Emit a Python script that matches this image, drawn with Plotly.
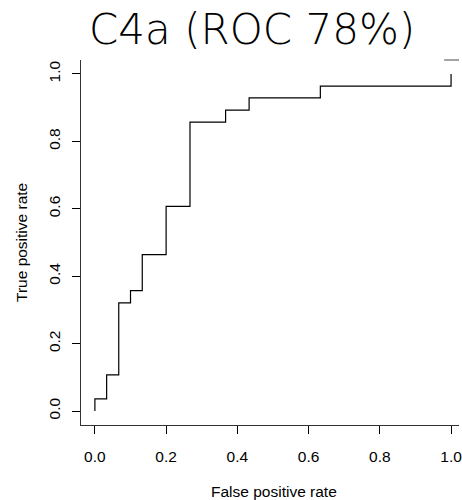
import plotly.graph_objects as go

# ROC curve breakpoints
fpr = [0, 0, 0.033, 0.067, 0.1, 0.133, 0.2, 0.267, 0.367, 0.433, 0.633, 1.0]
tpr = [0, 0.036, 0.107, 0.321, 0.357, 0.464, 0.607, 0.857, 0.893, 0.929, 0.964, 1.0]
tick_vals = [0.0, 0.2, 0.4, 0.6, 0.8, 1.0]
tick_text = ["0.0", "0.2", "0.4", "0.6", "0.8", "1.0"]
title_text = "C4a (ROC 78%)"
x_title = "False positive rate"
y_title = "True positive rate"

W, H = 462, 500
L, R, T, B = 81, 0, 60, 75
pw, ph = W - L - R, H - T - B

fig = go.Figure()
fig.add_trace(go.Scatter(
    x=fpr, y=tpr, mode="lines", line=dict(color="black", width=1.2, shape="hv"),
    hoverinfo="skip", showlegend=False,
))

tickfont = dict(family="Liberation Sans, Arial, sans-serif", size=15.5, color="black")
fig.update_layout(
    width=W, height=H,
    margin=dict(l=L, r=R, t=T, b=B, pad=0),
    paper_bgcolor="white", plot_bgcolor="white",
    xaxis=dict(range=[-0.039, 1.0223], tickvals=tick_vals, ticktext=tick_text,
               ticks="outside", ticklen=8, tickcolor="black", tickwidth=1,
               showline=True, linecolor="#333", linewidth=1,
               showgrid=False, zeroline=False, tickfont=tickfont,
               ticklabelstandoff=9, ticklabeloverflow="allow"),
    yaxis=dict(range=[-0.0415, 1.0415], tickvals=tick_vals, ticktext=tick_text,
               ticks="outside", ticklen=8, tickcolor="black", tickwidth=1,
               showline=True, linecolor="#333", linewidth=1,
               showgrid=False, zeroline=False, tickfont=tickfont,
               tickangle=-90, ticklabelstandoff=6, ticklabeloverflow="allow"),
    annotations=[
        dict(text=title_text, xref="paper", yref="paper",
             x=(253 - L) / pw, y=(H - B - 30) / ph, xanchor="center", yanchor="middle",
             showarrow=False,
             font=dict(family="DejaVu Sans", size=42, weight=200, color="black")),
        dict(text=x_title, xref="paper", yref="paper",
             x=(276 - L) / pw, y=(H - B - 491) / ph, xanchor="center", yanchor="middle",
             showarrow=False, font=dict(family="Liberation Sans, Arial, sans-serif", size=15.5, color="black")),
        dict(text=y_title, xref="paper", yref="paper",
             x=(21 - L) / pw, y=0.5, xanchor="center", yanchor="middle", textangle=-90,
             showarrow=False, font=dict(family="Liberation Sans, Arial, sans-serif", size=15.5, color="black")),
    ],
    shapes=[
        dict(type="line", xref="paper", yref="paper", x0=(447 - L) / pw, x1=1, y0=1, y1=1,
             line=dict(color="#666", width=1.2)),
    ],
)

fig.write_html("out.html")
